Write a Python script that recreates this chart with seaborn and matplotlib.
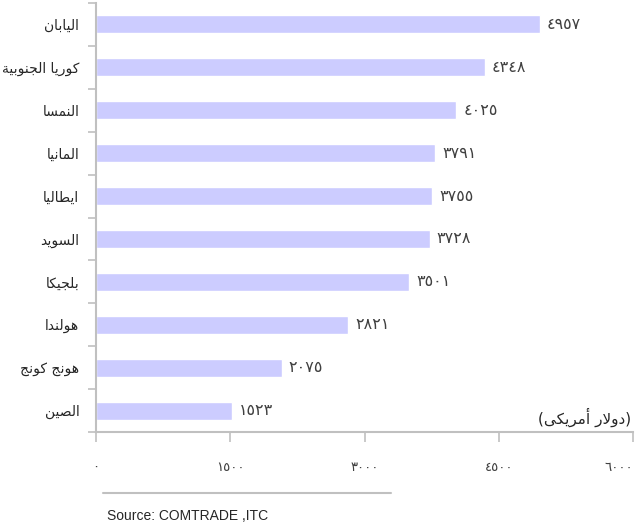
import numpy as np
import pandas as pd
import matplotlib
matplotlib.use("Agg")
import matplotlib.pyplot as plt
import seaborn as sns
from matplotlib.ticker import FixedLocator

sns.set_theme(style="white")
plt.rcParams['font.family'] = ['DejaVu Sans']

countries = ["اليابان", "كوريا الجنوبية", "النمسا", "المانيا", "ايطاليا",
             "السويد", "بلجيكا", "هولندا", "هونج كونج", "الصين"]
values = [4957, 4348, 4025, 3791, 3755, 3728, 3501, 2821, 2075, 1523]
xticks = [0, 1500, 3000, 4500, 6000]
unit_label = "(دولار أمريكى)"
source = "Source: COMTRADE ,ITC"

# matplotlib does no Arabic shaping, so pick presentation forms by hand
FORMS = {
    'ا': (0xFE8D, 0xFE8E, None, None), 'أ': (0xFE83, 0xFE84, None, None),
    'ب': (0xFE8F, 0xFE90, 0xFE91, 0xFE92), 'ة': (0xFE93, 0xFE94, None, None),
    'ت': (0xFE95, 0xFE96, 0xFE97, 0xFE98), 'ج': (0xFE9D, 0xFE9E, 0xFE9F, 0xFEA0),
    'د': (0xFEA9, 0xFEAA, None, None), 'ر': (0xFEAD, 0xFEAE, None, None),
    'س': (0xFEB1, 0xFEB2, 0xFEB3, 0xFEB4), 'ص': (0xFEB9, 0xFEBA, 0xFEBB, 0xFEBC),
    'ط': (0xFEC1, 0xFEC2, 0xFEC3, 0xFEC4), 'ك': (0xFED9, 0xFEDA, 0xFEDB, 0xFEDC),
    'ل': (0xFEDD, 0xFEDE, 0xFEDF, 0xFEE0), 'م': (0xFEE1, 0xFEE2, 0xFEE3, 0xFEE4),
    'ن': (0xFEE5, 0xFEE6, 0xFEE7, 0xFEE8), 'ه': (0xFEE9, 0xFEEA, 0xFEEB, 0xFEEC),
    'و': (0xFEED, 0xFEEE, None, None), 'ى': (0xFEEF, 0xFEF0, 0xFBE8, 0xFBE9),
    'ي': (0xFEF1, 0xFEF2, 0xFEF3, 0xFEF4),
}
LAMALEF = {'ا': (0xFEFB, 0xFEFC), 'أ': (0xFEF7, 0xFEF8)}


def shape(s):
    out = []
    i = 0
    prev = False
    while i < len(s):
        c = s[i]
        if c not in FORMS:
            out.append(c)
            prev = False
            i += 1
            continue
        if c == 'ل' and i + 1 < len(s) and s[i + 1] in LAMALEF:
            lig = LAMALEF[s[i + 1]]
            out.append(chr(lig[1] if prev else lig[0]))
            prev = False
            i += 2
            continue
        f = FORMS[c]
        nxt = f[2] is not None and i + 1 < len(s) and s[i + 1] in FORMS
        if prev and nxt:
            g = f[3]
        elif prev:
            g = f[1]
        elif nxt:
            g = f[2]
        else:
            g = f[0]
        out.append(chr(g))
        prev = nxt
        i += 1
    vis = ''.join(reversed(out))
    return vis.translate(str.maketrans("()", ")("))


def arabic_digits(n):
    return str(n).translate(str.maketrans("0123456789", "٠١٢٣٤٥٦٧٨٩"))


df = pd.DataFrame({"country": [shape(c) for c in countries], "value": values})

fig = plt.figure(figsize=(6.41, 5.28), dpi=100)
ax = fig.add_axes([96 / 641, 96 / 528, (633 - 96) / 641, (525 - 96) / 528])

sns.barplot(data=df, x="value", y="country", orient="h", color="#ccccff",
            saturation=1, width=0.42, ax=ax)

ax.set_xlim(0, 6000)
ax.set_ylim(len(countries) - 0.5, -0.5)
ax.set_xlabel("")
ax.set_ylabel("")

ax.bar_label(ax.containers[0], labels=[arabic_digits(v) for v in values],
             padding=5, fontsize=11.5, color="#404040")

gray = "#c0c0c0"
for side in ["top", "right"]:
    ax.spines[side].set_visible(False)
for side in ["left", "bottom"]:
    ax.spines[side].set_color(gray)
    ax.spines[side].set_linewidth(1.5)

ax.set_xticks(xticks)
ax.set_xticklabels([arabic_digits(t) for t in xticks], fontsize=9.5, color="#404040")
ax.get_xticklabels()[-1].set_horizontalalignment("right")
ax.tick_params(axis="x", which="major", direction="out", length=7, width=1.2,
               color=gray, pad=14, bottom=True)
ax.tick_params(axis="y", which="major", length=0, pad=12, labelsize=10,
               labelcolor="#262626")
ax.yaxis.set_minor_locator(FixedLocator(np.arange(-0.5, len(countries), 1.0)))
ax.tick_params(axis="y", which="minor", direction="out", length=6, width=1.2,
               color=gray, left=True)
for lab in ax.get_yticklabels():
    lab.set_horizontalalignment("right")

ax.text(0.997, 0.033, shape(unit_label), transform=ax.transAxes,
        ha="right", va="center", fontsize=11, color="#262626")

fig.add_artist(plt.Line2D([103 / 641, 391 / 641], [35 / 528, 35 / 528],
                          color=gray, linewidth=1.5))
fig.text(107 / 641, 12 / 528, source, fontsize=10, color="#262626",
         family=["Liberation Sans", "DejaVu Sans"], va="center", ha="left")

fig.savefig("out.png", dpi=100)
